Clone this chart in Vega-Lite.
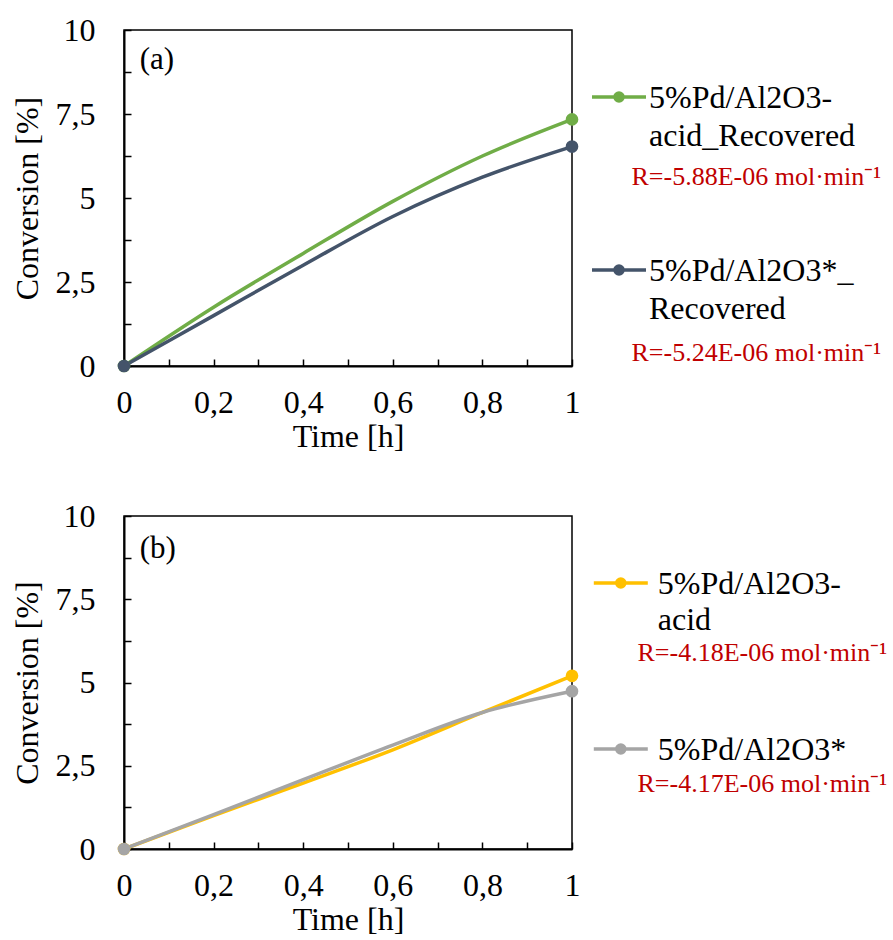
{
  "$schema": "https://vega.github.io/schema/vega-lite/v6.json",
  "padding": {"left": 10, "top": 13, "right": 0, "bottom": 0},
  "background": "white",
  "spacing": 150,
  "bounds": "flush",
  "resolve": {"scale": {"color": "independent", "shape": "independent", "x": "independent", "y": "independent"}, "legend": {"color": "independent", "shape": "independent"}},
  "config": {
    "font": "Liberation Serif",
    "view": {"stroke": "#000", "strokeWidth": 1.5},
    "axis": {
      "labelFont": "Liberation Serif", "titleFont": "Liberation Serif",
      "labelFontSize": 32, "titleFontSize": 32, "titleFontWeight": "normal",
      "labelColor": "#000", "titleColor": "#000",
      "domainColor": "#000", "domainWidth": 2,
      "tickColor": "#000", "tickWidth": 1.5, "tickSize": -7,
      "grid": false, "labelOverlap": false, "labelFlush": false
    }
  },
  "datasets": {
    "a": [
      {"series": "5%Pd/Al2O3-acid_Recovered", "t": 0, "conv": 0},
      {"series": "5%Pd/Al2O3-acid_Recovered", "t": 0.2, "conv": 1.75},
      {"series": "5%Pd/Al2O3-acid_Recovered", "t": 0.4, "conv": 3.35},
      {"series": "5%Pd/Al2O3-acid_Recovered", "t": 0.6, "conv": 4.9},
      {"series": "5%Pd/Al2O3-acid_Recovered", "t": 0.8, "conv": 6.25},
      {"series": "5%Pd/Al2O3-acid_Recovered", "t": 1, "conv": 7.34},
      {"series": "5%Pd/Al2O3*_Recovered", "t": 0, "conv": 0},
      {"series": "5%Pd/Al2O3*_Recovered", "t": 0.2, "conv": 1.5},
      {"series": "5%Pd/Al2O3*_Recovered", "t": 0.4, "conv": 3.0},
      {"series": "5%Pd/Al2O3*_Recovered", "t": 0.6, "conv": 4.45},
      {"series": "5%Pd/Al2O3*_Recovered", "t": 0.8, "conv": 5.62},
      {"series": "5%Pd/Al2O3*_Recovered", "t": 1, "conv": 6.53}
    ],
    "a_info": [
      {"series": "5%Pd/Al2O3-acid_Recovered", "R": "R=-5.88E-06 mol·min⁻¹"},
      {"series": "5%Pd/Al2O3*_Recovered", "R": "R=-5.24E-06 mol·min⁻¹"}
    ],
    "b": [
      {"series": "5%Pd/Al2O3-acid", "t": 0, "conv": 0},
      {"series": "5%Pd/Al2O3-acid", "t": 0.2, "conv": 1.0},
      {"series": "5%Pd/Al2O3-acid", "t": 0.4, "conv": 1.98},
      {"series": "5%Pd/Al2O3-acid", "t": 0.6, "conv": 2.98},
      {"series": "5%Pd/Al2O3-acid", "t": 0.8, "conv": 4.1},
      {"series": "5%Pd/Al2O3-acid", "t": 1, "conv": 5.2},
      {"series": "5%Pd/Al2O3*", "t": 0, "conv": 0},
      {"series": "5%Pd/Al2O3*", "t": 0.2, "conv": 1.03},
      {"series": "5%Pd/Al2O3*", "t": 0.4, "conv": 2.08},
      {"series": "5%Pd/Al2O3*", "t": 0.6, "conv": 3.12},
      {"series": "5%Pd/Al2O3*", "t": 0.8, "conv": 4.1},
      {"series": "5%Pd/Al2O3*", "t": 1, "conv": 4.74}
    ],
    "b_info": [
      {"series": "5%Pd/Al2O3-acid", "R": "R=-4.18E-06 mol·min⁻¹"},
      {"series": "5%Pd/Al2O3*", "R": "R=-4.17E-06 mol·min⁻¹"}
    ]
  },
  "vconcat": [
    {
      "width": 448, "height": 336,
      "layer": [
        {
          "data": {"name": "a"},
          "mark": {"type": "line", "interpolate": "monotone", "strokeWidth": 3.5},
          "encoding": {
            "x": {"field": "t", "type": "quantitative", "scale": {"domain": [0, 1]},
              "axis": {"title": "Time [h]", "values": [0, 0.1, 0.2, 0.3, 0.4, 0.5, 0.6, 0.7, 0.8, 0.9, 1], "format": ".2~f",
                "labelExpr": "round(datum.value*10) % 2 == 0 ? replace(datum.label, '.', ',') : ''",
                "labelPadding": 28, "titlePadding": 3}},
            "y": {"field": "conv", "type": "quantitative", "scale": {"domain": [0, 10]},
              "axis": {"title": "Conversion [%]", "values": [0, 1.25, 2.5, 3.75, 5, 6.25, 7.5, 8.75, 10], "format": ".2~f",
                "labelExpr": "datum.value % 2.5 == 0 ? replace(datum.label, '.', ',') : ''",
                "labelPadding": 36, "titlePadding": 11}},
            "color": {"field": "series", "type": "nominal",
              "scale": {"domain": ["5%Pd/Al2O3-acid_Recovered", "5%Pd/Al2O3*_Recovered"], "range": ["#70AD47", "#44546A"]},
              "legend": {
                "orient": "none", "legendX": 466, "legendY": 38, "title": null, "padding": 0,
                "rowPadding": 88,
                "symbolType": "M-1,0H1M0.15,0A0.15,0.15,0,1,1,-0.15,0A0.15,0.15,0,1,1,0.15,0Z",
                "symbolSize": 2916, "symbolStrokeWidth": 3.5,
                "labelFont": "Liberation Serif", "labelFontSize": 32, "labelColor": "#000",
                "labelLimit": 500, "labelOffset": 1, "labelBaseline": "top",
                "labelExpr": "split(replace(datum.label, regexp('([-_])(?=[A-Za-z])'), '$1|'), '|')",
                "encode": {"labels": {"update": {"lineHeight": {"value": 38.7}, "dy": {"value": -14.5}}}}
              }
            }
          }
        },
        {
          "data": {"name": "a"},
          "transform": [{"filter": "datum.t == 0 || datum.t == 1"}],
          "mark": {"type": "point", "filled": true, "size": 160, "opacity": 1},
          "encoding": {
            "x": {"field": "t", "type": "quantitative"},
            "y": {"field": "conv", "type": "quantitative"},
            "color": {"field": "series", "type": "nominal"}
          }
        },
        {
          "data": {"name": "a_info"},
          "mark": {"type": "point", "opacity": 0},
          "encoding": {
            "shape": {"field": "R", "type": "nominal",
              "scale": {"domain": ["R=-5.88E-06 mol·min⁻¹", "R=-5.24E-06 mol·min⁻¹"]},
              "legend": {
                "orient": "none", "legendX": 481.5, "legendY": 134.3, "title": null, "padding": 0,
                "rowPadding": 149.5, "symbolSize": 1, "symbolOpacity": 0,
                "labelFont": "Liberation Serif", "labelFontSize": 26, "labelColor": "#C00000",
                "labelLimit": 500, "labelOffset": 0
              }
            }
          }
        },
        {
          "data": {"values": [{"label": "(a)"}]},
          "mark": {"type": "text", "align": "left", "baseline": "middle", "font": "Liberation Serif", "fontSize": 31, "fill": "#000"},
          "encoding": {"x": {"datum": 0.035, "type": "quantitative"}, "y": {"datum": 9.1, "type": "quantitative"}, "text": {"field": "label"}}
        }
      ]
    },
    {
      "width": 448, "height": 333,
      "layer": [
        {
          "data": {"name": "b"},
          "mark": {"type": "line", "interpolate": "monotone", "strokeWidth": 3.5},
          "encoding": {
            "x": {"field": "t", "type": "quantitative", "scale": {"domain": [0, 1]},
              "axis": {"title": "Time [h]", "values": [0, 0.1, 0.2, 0.3, 0.4, 0.5, 0.6, 0.7, 0.8, 0.9, 1], "format": ".2~f",
                "labelExpr": "round(datum.value*10) % 2 == 0 ? replace(datum.label, '.', ',') : ''",
                "labelPadding": 28, "titlePadding": 3}},
            "y": {"field": "conv", "type": "quantitative", "scale": {"domain": [0, 10]},
              "axis": {"title": "Conversion [%]", "values": [0, 1.25, 2.5, 3.75, 5, 6.25, 7.5, 8.75, 10], "format": ".2~f",
                "labelExpr": "datum.value % 2.5 == 0 ? replace(datum.label, '.', ',') : ''",
                "labelPadding": 36, "titlePadding": 11}},
            "color": {"field": "series", "type": "nominal",
              "scale": {"domain": ["5%Pd/Al2O3-acid", "5%Pd/Al2O3*"], "range": ["#FFC000", "#A5A5A5"]},
              "legend": {
                "orient": "none", "legendX": 467.8, "legendY": 38, "title": null, "padding": 0,
                "rowPadding": 84,
                "symbolType": "M-1,0H1M0.15,0A0.15,0.15,0,1,1,-0.15,0A0.15,0.15,0,1,1,0.15,0Z",
                "symbolSize": 2916, "symbolStrokeWidth": 3.5,
                "labelFont": "Liberation Serif", "labelFontSize": 32, "labelColor": "#000",
                "labelLimit": 500, "labelOffset": 8, "labelBaseline": "top",
                "labelExpr": "split(replace(datum.label, regexp('([-_])(?=[A-Za-z])'), '$1|'), '|')",
                "encode": {"labels": {"update": {"lineHeight": {"value": 36}, "dy": {"value": -14.5}}}}
              }
            }
          }
        },
        {
          "data": {"name": "b"},
          "transform": [{"filter": "datum.t == 0 || datum.t == 1"}],
          "mark": {"type": "point", "filled": true, "size": 160, "opacity": 1},
          "encoding": {
            "x": {"field": "t", "type": "quantitative"},
            "y": {"field": "conv", "type": "quantitative"},
            "color": {"field": "series", "type": "nominal"}
          }
        },
        {
          "data": {"name": "b_info"},
          "mark": {"type": "point", "opacity": 0},
          "encoding": {
            "shape": {"field": "R", "type": "nominal",
              "scale": {"domain": ["R=-4.18E-06 mol·min⁻¹", "R=-4.17E-06 mol·min⁻¹"]},
              "legend": {
                "orient": "none", "legendX": 487.5, "legendY": 123.8, "title": null, "padding": 0,
                "rowPadding": 105, "symbolSize": 1, "symbolOpacity": 0,
                "labelFont": "Liberation Serif", "labelFontSize": 26, "labelColor": "#C00000",
                "labelLimit": 500, "labelOffset": 0
              }
            }
          }
        },
        {
          "data": {"values": [{"label": "(b)"}]},
          "mark": {"type": "text", "align": "left", "baseline": "middle", "font": "Liberation Serif", "fontSize": 31, "fill": "#000"},
          "encoding": {"x": {"datum": 0.035, "type": "quantitative"}, "y": {"datum": 9.0, "type": "quantitative"}, "text": {"field": "label"}}
        }
      ]
    }
  ]
}
